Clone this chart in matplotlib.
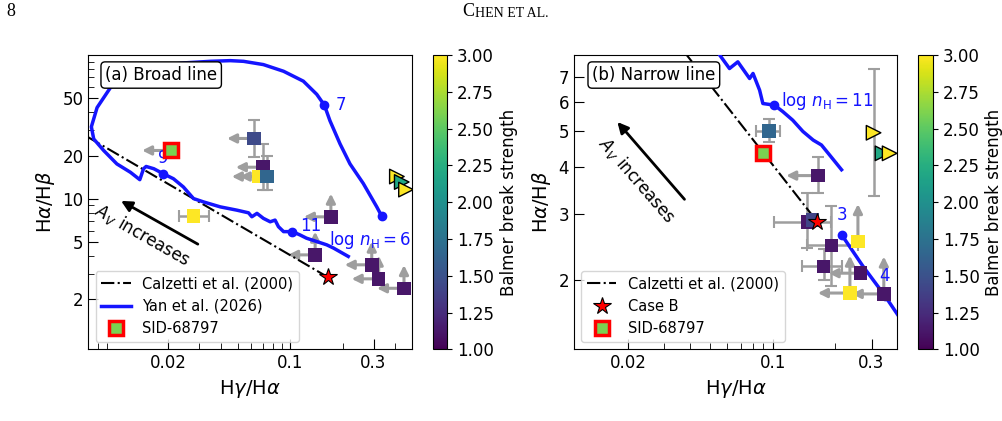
import numpy as np
import matplotlib
matplotlib.use("Agg")
import matplotlib.pyplot as plt
from matplotlib.ticker import NullFormatter, FixedLocator, LogLocator

# ---- data ----
# (a) broad line: squares (colour = Balmer break strength)
a_x = [0.0622, 0.0698, 0.0662, 0.0735, 0.028, 0.171, 0.139, 0.293, 0.321, 0.448]
a_y = [26.3, 16.6, 14.3, 14.3, 7.6, 7.5, 4.08, 3.48, 2.78, 2.39]
a_bb = [1.45, 1.12, 3.0, 1.65, 3.0, 1.12, 1.12, 1.12, 1.12, 1.12]
a_xup = [1, 1, 1, 1, 0, 1, 1, 1, 1, 1]     # upper limit on Hg/Ha
a_ylo = [0, 0, 0, 0, 0, 1, 1, 1, 1, 1]     # lower limit on Ha/Hb
a_ylow = [19.5, 11.5, None, 11.5, None, None, None, None, None, None]
a_yhigh = [35.4, 24.1, None, 20.0, None, None, None, None, None, None]
a_xlow = [None, None, None, None, 0.0230, None, None, None, None, None]
a_xhigh = [None, None, None, None, 0.0344, None, None, None, None, None]
a_tri_x = [0.408, 0.435, 0.460]
a_tri_y = [14.3, 13.1, 11.6]
a_tri_bb = [3.0, 2.2, 3.0]
a_sid = (0.0209, 21.7)

# (b) narrow line
b_x = [0.0959, 0.166, 0.147, 0.156, 0.192, 0.258, 0.176, 0.266, 0.236, 0.344]
b_y = [5.01, 3.80, 2.85, 2.89, 2.47, 2.53, 2.17, 2.08, 1.84, 1.83]
b_bb = [1.65, 1.12, 1.12, 1.4, 1.12, 3.0, 1.12, 1.1, 3.0, 1.12]
b_xup = [0, 1, 0, 0, 0, 0, 0, 1, 1, 1]
b_ylo = [0, 0, 0, 0, 0, 1, 0, 0, 1, 1]
b_ylow = [4.69, 3.41, 2.43, None, 1.92, None, 2.0, None, None, None]
b_yhigh = [5.39, 4.27, 3.41, None, 3.14, None, 2.41, None, None, None]
b_xlow = [0.0834, None, 0.102, None, 0.146, None, 0.138, None, None, None]
b_xhigh = [0.109, None, 0.192, None, 0.258, None, 0.215, None, None, None]
b_tri_x = [0.307, 0.339, 0.367]
b_tri_y = [4.95, 4.36, 4.36]
b_tri_bb = [3.0, 2.2, 3.0]
b_tri_ylow = [3.35, None, None]
b_tri_yhigh = [7.36, None, None]
b_sid = (0.0897, 4.36)

case_b = (0.164, 2.86)
calz_x = [0.007, 0.164]
calz_y = [26.8, 2.86]

# Yan et al. (2026) broad-line track
yan_x = [0.334, 0.313, 0.262, 0.220, 0.193, 0.169, 0.157, 0.142, 0.119, 0.0917,
         0.0703, 0.0541, 0.0454, 0.0349, 0.0245, 0.0173, 0.0122, 0.00936, 0.00786, 0.00729,
         0.00752, 0.00857, 0.0102, 0.0122, 0.0138, 0.0145, 0.0150, 0.0166, 0.0187, 0.0215,
         0.0245, 0.0280, 0.0319, 0.0398, 0.0495, 0.0578, 0.0604, 0.0646, 0.0703, 0.0769,
         0.0820, 0.0857, 0.0917, 0.103, 0.114, 0.124, 0.142, 0.162, 0.177, 0.215]
yan_y = [7.59, 8.80, 12.8, 17.5, 24.1, 34.9, 44.8, 53.3, 65.8, 77.1,
         85.8, 90.4, 91.4, 90.4, 88.1, 83.5, 73.2, 59.2, 43.1, 31.7,
         26.1, 21.7, 17.5, 15.3, 13.6, 16.2, 16.8, 16.2, 15.0, 13.8,
         12.1, 10.05, 9.53, 8.80, 8.35, 8.00, 7.51, 7.93, 7.32, 6.93,
         7.12, 6.41, 5.92, 5.92, 5.61, 5.33, 5.05, 4.79, 4.55, 3.98]
yan_mark_x = [0.334, 0.157, 0.0187, 0.103]
yan_mark_y = [7.59, 44.8, 15.0, 5.92]
yan_mark_lab = ["log $n_{\\rm H} = 6$", "7", "9", "11"]

# Yan et al. narrow-line tracks
nar_hi_x = [0.052, 0.0555, 0.0619, 0.0679, 0.0774, 0.0804, 0.0834, 0.0865, 0.0897, 0.102,
            0.112, 0.125, 0.140, 0.157, 0.172, 0.188, 0.215]
nar_hi_y = [8.6, 8.0, 7.36, 7.67, 6.92, 7.14, 6.78, 6.44, 5.93, 5.87,
            5.64, 5.35, 4.99, 4.73, 4.59, 4.32, 3.94]
nar_lo_x = [0.215, 0.273, 0.348, 0.42]
nar_lo_y = [2.64, 2.17, 1.81, 1.55]
nar_mark_x = [0.102, 0.215, 0.348]
nar_mark_y = [5.87, 2.64, 1.81]
nar_mark_lab = ["log $n_{\\rm H} = 11$", "3", "4"]

CMAP = "viridis"
GREY = "0.62"
SID_FACE = "#7ad151"


def limit_arrows(ax, xs, ys, xup, ylo, fx, fy):
    arrow = dict(arrowstyle="-|>", color=GREY, lw=2.2, mutation_scale=13,
                 shrinkA=0, shrinkB=0)
    for x, y, l1, l2 in zip(xs, ys, xup, ylo):
        if l1:
            ax.annotate("", xy=(x * fx, y), xytext=(x, y), arrowprops=arrow, zorder=2)
        if l2:
            ax.annotate("", xy=(x, y * fy), xytext=(x, y), arrowprops=arrow, zorder=2)


def err_bars(ax, xs, ys, xlow, xhigh, ylow, yhigh):
    for x, y, x0, x1, y0, y1 in zip(xs, ys, xlow, xhigh, ylow, yhigh):
        xe = [[x - x0], [x1 - x]] if x0 is not None else None
        ye = [[y - y0], [y1 - y]] if y0 is not None else None
        if xe is None and ye is None:
            continue
        ax.errorbar([x], [y], xerr=xe, yerr=ye, fmt="none", ecolor=GREY,
                    elinewidth=1.8, capsize=4, capthick=1.5, zorder=2)


def style_axes(ax, xlim, ylim, yticks):
    ax.set_xscale("log")
    ax.set_yscale("log")
    ax.set_xlim(*xlim)
    ax.set_ylim(*ylim)
    ax.xaxis.set_major_locator(FixedLocator([0.02, 0.1, 0.3]))
    ax.set_xticklabels(["0.02", "0.1", "0.3"])
    ax.xaxis.set_minor_locator(LogLocator(base=10, subs=np.arange(2, 10)))
    ax.xaxis.set_minor_formatter(NullFormatter())
    ax.yaxis.set_major_locator(FixedLocator(yticks))
    ax.set_yticklabels([str(t) for t in yticks])
    ax.yaxis.set_minor_locator(LogLocator(base=10, subs=np.arange(2, 10)))
    ax.yaxis.set_minor_formatter(NullFormatter())
    ax.tick_params(which="both", direction="in", labelsize=12)
    ax.tick_params(which="major", length=7)
    ax.tick_params(which="minor", length=4)
    ax.set_xlabel("H$\\gamma$/H$\\alpha$", fontsize=14)
    ax.set_ylabel("H$\\alpha$/H$\\beta$", fontsize=14)


def add_colorbar(fig, sc, cax):
    cb = fig.colorbar(sc, cax=cax, ticks=np.arange(1.0, 3.01, 0.25), format="%.2f")
    cb.ax.tick_params(labelsize=12)
    cb.set_label("Balmer break strength", fontsize=12)


fig = plt.figure(figsize=(10.02, 4.21), dpi=100)
ax_a = fig.add_axes([0.0881, 0.1703, 0.3234, 0.699])
cax_a = fig.add_axes([0.4318, 0.1703, 0.0146, 0.699])
ax_b = fig.add_axes([0.5729, 0.1703, 0.3227, 0.699])
cax_b = fig.add_axes([0.9162, 0.1703, 0.015, 0.699])

# ---------------- (a) broad line ----------------
ax = ax_a
ax.plot(calz_x, calz_y, color="k", ls="-.", lw=1.5, zorder=3, label="Calzetti et al. (2000)")
ax.plot(yan_x, yan_y, color="#1515ff", lw=2.5, zorder=3, label="Yan et al. (2026)")
ax.plot(yan_mark_x, yan_mark_y, "o", color="#1515ff", ms=6, zorder=3)
offs = [(-8, -17), (12, 0), (0, 11), (13, 4)]
for x, y, lab, off in zip(yan_mark_x, yan_mark_y, yan_mark_lab, offs):
    ax.annotate(lab, (x, y), xytext=off, textcoords="offset points", color="#1515ff",
                fontsize=12, ha="center", va="center")
limit_arrows(ax, a_x, a_y, a_xup, a_ylo, 0.7, 1.45)
limit_arrows(ax, [a_sid[0]], [a_sid[1]], [1], [0], 0.68, 1.45)
err_bars(ax, a_x, a_y, a_xlow, a_xhigh, a_ylow, a_yhigh)
sc_a = ax.scatter(a_x, a_y, c=a_bb, cmap=CMAP, vmin=1, vmax=3, marker="s", s=95,
                  zorder=4, linewidths=0)
ax.scatter(a_tri_x, a_tri_y, c=a_tri_bb, cmap=CMAP, vmin=1, vmax=3, marker=">", s=110,
           edgecolors="k", linewidths=1, zorder=5, clip_on=True)
ax.plot(*a_sid, "s", mfc=SID_FACE, mec="red", mew=2.5, ms=9.5, zorder=6, label="SID-68797")
ax.plot(*case_b, "*", color="red", mec="k", mew=0.8, ms=13, zorder=6)
ax.annotate("", xy=(0.01044, 9.9), xytext=(0.0306, 4.74),
            arrowprops=dict(arrowstyle="-|>", color="k", lw=2, mutation_scale=16))
ax.text(0.0142, 5.61, "$A_V$ increases", rotation=-29.6, fontsize=12,
        ha="center", va="center", rotation_mode="anchor")
ax.text(0.052, 0.932, "(a) Broad line", transform=ax.transAxes, fontsize=12, va="center",
        bbox=dict(boxstyle="round,pad=0.25", fc="white", ec="black"))
style_axes(ax, (0.007, 0.5), (0.9, 100), [2, 5, 10, 20, 50])
ax.legend(loc="lower left", fontsize=10.5, frameon=True, edgecolor="0.8")
add_colorbar(fig, sc_a, cax_a)

# ---------------- (b) narrow line ----------------
ax = ax_b
ax.plot(calz_x, calz_y, color="k", ls="-.", lw=1.5, zorder=3, label="Calzetti et al. (2000)")
ax.plot(nar_hi_x, nar_hi_y, color="#1515ff", lw=2.5, zorder=3)
ax.plot(nar_lo_x, nar_lo_y, color="#1515ff", lw=2.5, zorder=3)
ax.plot(nar_mark_x, nar_mark_y, "o", color="#1515ff", ms=6, zorder=3)
offs = [(5, 3), (0, 14), (0, 14)]
has = ["left", "center", "center"]
for x, y, lab, off, ha in zip(nar_mark_x, nar_mark_y, nar_mark_lab, offs, has):
    ax.annotate(lab, (x, y), xytext=off, textcoords="offset points", color="#1515ff",
                fontsize=12, ha=ha, va="center")
limit_arrows(ax, b_x, b_y, b_xup, b_ylo, 0.7, 1.26)
err_bars(ax, b_x, b_y, b_xlow, b_xhigh, b_ylow, b_yhigh)
err_bars(ax, b_tri_x, b_tri_y, [None] * 3, [None] * 3, b_tri_ylow, b_tri_yhigh)
sc_b = ax.scatter(b_x, b_y, c=b_bb, cmap=CMAP, vmin=1, vmax=3, marker="s", s=95,
                  zorder=4, linewidths=0)
ax.scatter(b_tri_x, b_tri_y, c=b_tri_bb, cmap=CMAP, vmin=1, vmax=3, marker=">", s=110,
           edgecolors="k", linewidths=1, zorder=5)
ax.plot(*case_b, "*", color="red", mec="k", mew=0.8, ms=13, zorder=6, ls="none", label="Case B")
ax.plot(*b_sid, "s", mfc=SID_FACE, mec="red", mew=2.5, ms=9.5, zorder=6, label="SID-68797")
ax.annotate("", xy=(0.01745, 5.36), xytext=(0.0383, 3.24),
            arrowprops=dict(arrowstyle="-|>", color="k", lw=2, mutation_scale=16))
ax.text(0.0220, 3.70, "$A_V$ increases", rotation=-49, fontsize=12,
        ha="center", va="center", rotation_mode="anchor")
ax.text(0.056, 0.932, "(b) Narrow line", transform=ax.transAxes, fontsize=12, va="center",
        bbox=dict(boxstyle="round,pad=0.25", fc="white", ec="black"))
style_axes(ax, (0.011, 0.4), (1.3, 8.0), [2, 3, 4, 5, 6, 7])
ax.legend(loc="lower left", fontsize=10.5, frameon=True, edgecolor="0.8")
add_colorbar(fig, sc_b, cax_b)

# page header
fig.text(0.006, 0.972, "8", family="Liberation Serif", fontsize=13, va="center")
fig.text(0.461, 0.972, "C", family="Liberation Serif", fontsize=13, va="center")
fig.text(0.474, 0.969, "HEN ET AL.", family="Liberation Serif", fontsize=10, va="center")

fig.savefig("out.png", dpi=100)
